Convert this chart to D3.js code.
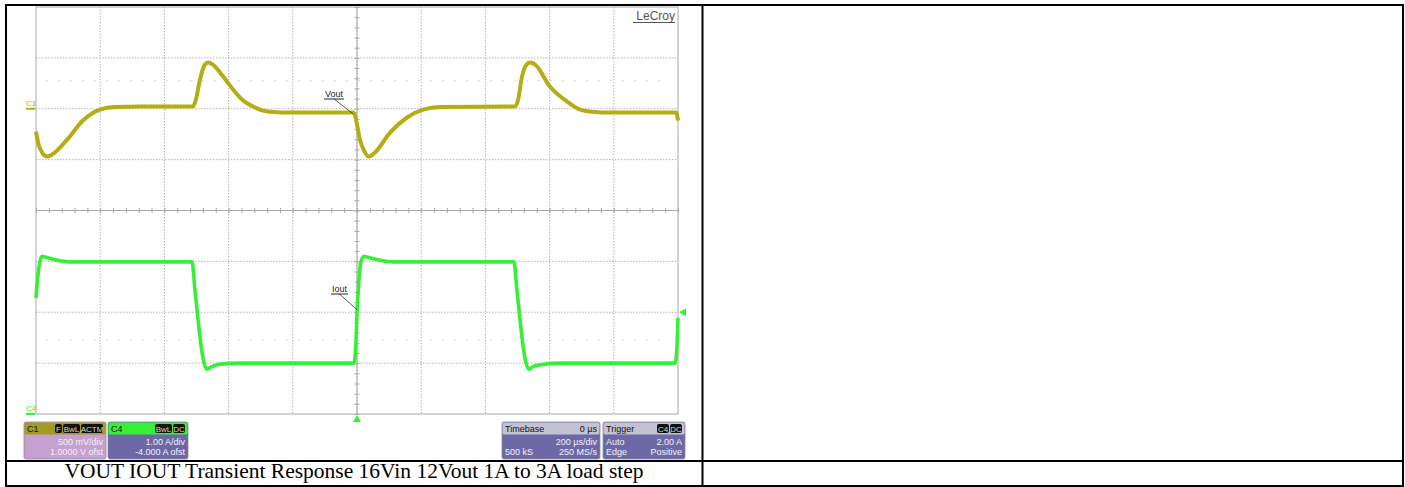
<!DOCTYPE html>
<html>
<head>
<meta charset="utf-8">
<script src="https://cdn.jsdelivr.net/npm/d3@7"></script>
<style>
  body { margin: 0; background: #fff; }
  svg { display: block; }
</style>
</head>
<body>
<svg id="chart" width="1405" height="487"></svg>
<script>
// Vout (C1) - time in us, volts (AC coupled, 0 V at the C1 marker)
const voutTime = [-1000, -991, -981, -966, -950, -903, -854, -801, -754, -676, -511, -502, -489, -477, -464, -449, -417, -386, -355, -324, -293, -262, -209, -12, -6, 0, 9, 22, 37, 53, 103, 156, 206, 259, 492, 502, 514, 526, 539, 555, 601, 654, 695, 741, 779, 994, 1000];
const voutVolts = [-0.224, -0.362, -0.430, -0.470, -0.450, -0.303, -0.116, -0.008, 0.017, 0.022, 0.022, 0.090, 0.287, 0.415, 0.454, 0.434, 0.316, 0.189, 0.081, 0.022, -0.018, -0.032, -0.037, -0.037, -0.067, -0.155, -0.303, -0.411, -0.470, -0.440, -0.234, -0.086, -0.008, 0.017, 0.022, 0.090, 0.316, 0.424, 0.454, 0.434, 0.218, 0.071, -0.008, -0.032, -0.037, -0.037, -0.116];

// Iout (C4) - time in us, amps
const ioutTime = [-1000, -994, -988, -981, -969, -941, -894, -514, -505, -495, -486, -477, -467, -455, -427, -364, -9, -3, 0, 6, 12, 22, 34, 65, 109, 489, 498, 508, 517, 526, 536, 551, 586, 632, 991, 997, 1000];
const ioutAmps = [2.28, 2.73, 2.99, 3.10, 3.08, 3.03, 2.99, 2.99, 2.45, 1.85, 1.36, 1.02, 0.88, 0.92, 0.98, 1.00, 1.00, 1.45, 1.98, 2.63, 2.99, 3.10, 3.08, 3.03, 2.99, 2.99, 2.45, 1.85, 1.36, 1.02, 0.88, 0.94, 0.98, 1.00, 1.00, 1.36, 1.89];

// scope settings
const channels = ['C1', 'C4'];
const c1Flags = ['F', 'BwL', 'ACTM'];
const c4Flags = ['BwL', 'DC'];
const trigFlags = ['C4', 'DC'];
const c1Rows = ['500 mV/div', '1.0000 V ofst'];
const c4Rows = ['1.00 A/div', '-4.000 A ofst'];
const triggerLevel = 2.0;
const caption = 'VOUT IOUT Transient Response 16Vin 12Vout 1A to 3A load step';

const svg = d3.select('#chart');

const grid = { left: 36, right: 678, top: 7, bottom: 414 };
const x = d3.scaleLinear().domain([-1000, 1000]).range([grid.left, grid.right]);
// 500 mV/div, 8 divisions, 0 V two divisions above centre
const yV = d3.scaleLinear().domain([-3, 1]).range([grid.bottom, grid.top]);
// 1 A/div, -4 A offset -> 0 A on the bottom line
const yI = d3.scaleLinear().domain([0, 8]).range([grid.bottom, grid.top]);
// division scale used for the graticule
const yDiv = d3.scaleLinear().domain([-4, 4]).range([grid.bottom, grid.top]);
const xDiv = d3.scaleLinear().domain([-5, 5]).range([grid.left, grid.right]);

const yellow = '#b2ae14';
const green = '#36ef36';

// graticule
const g = svg.append('g');

g.append('g')
  .selectAll('line')
  .data(d3.range(-4, 5))
  .enter()
  .append('line')
  .attr('x1', xDiv)
  .attr('x2', xDiv)
  .attr('y1', grid.top)
  .attr('y2', grid.bottom)
  .attr('stroke', '#b4b4b4')
  .attr('stroke-dasharray', '1.5,1.5');

g.append('g')
  .selectAll('line')
  .data(d3.range(-3, 4))
  .enter()
  .append('line')
  .attr('y1', yDiv)
  .attr('y2', yDiv)
  .attr('x1', grid.left)
  .attr('x2', grid.right)
  .attr('stroke', '#b4b4b4')
  .attr('stroke-dasharray', '1.5,1.5');

// faint marker rows
g.append('g')
  .selectAll('line')
  .data([2.55, -2.55])
  .enter()
  .append('line')
  .attr('y1', yDiv)
  .attr('y2', yDiv)
  .attr('x1', grid.left + 10)
  .attr('x2', grid.right - 10)
  .attr('stroke', '#d4d4d4')
  .attr('stroke-dasharray', '2,10');

// centre axes with minor ticks
const axisX = d3.axisBottom(xDiv).tickValues(d3.range(-5, 5.01, 0.2)).tickSize(5).tickFormat('');
const axisY = d3.axisLeft(yDiv).tickValues(d3.range(-4, 4.01, 0.2)).tickSize(5).tickFormat('');

g.append('g')
  .attr('transform', 'translate(0,' + (yDiv(0) - 2.5) + ')')
  .call(axisX)
  .call(s => s.select('.domain').remove())
  .selectAll('line').attr('stroke', '#a8a8a8');
g.append('g')
  .attr('transform', 'translate(' + (xDiv(0) + 2.5) + ',0)')
  .call(axisY)
  .call(s => s.select('.domain').remove())
  .selectAll('line').attr('stroke', '#a8a8a8');

g.append('line')
  .attr('x1', grid.left).attr('x2', grid.right)
  .attr('y1', yDiv(0)).attr('y2', yDiv(0))
  .attr('stroke', '#a8a8a8');
g.append('line')
  .attr('x1', xDiv(0)).attr('x2', xDiv(0))
  .attr('y1', grid.top).attr('y2', grid.bottom)
  .attr('stroke', '#a8a8a8');

g.append('rect')
  .attr('x', grid.left).attr('y', grid.top)
  .attr('width', grid.right - grid.left).attr('height', grid.bottom - grid.top)
  .attr('fill', 'none')
  .attr('stroke', '#a8a8a8');

// traces
const voutLine = d3.line()
  .x((d, i) => x(voutTime[i]))
  .y(d => yV(d))
  .curve(d3.curveMonotoneX);

const ioutLine = d3.line()
  .x((d, i) => x(ioutTime[i]))
  .y(d => yI(d))
  .curve(d3.curveMonotoneX);

svg.append('path')
  .attr('d', voutLine(voutVolts))
  .attr('fill', 'none')
  .attr('stroke', yellow)
  .attr('stroke-width', 4)
  .attr('stroke-linejoin', 'round');

svg.append('path')
  .attr('d', ioutLine(ioutAmps))
  .attr('fill', 'none')
  .attr('stroke', green)
  .attr('stroke-width', 3.6)
  .attr('stroke-linejoin', 'round');

// channel markers on the left
const markers = [
  { name: channels[0], y: yV(0), color: yellow },
  { name: channels[1], y: yI(0), color: green }
];
markers.forEach(m => {
  svg.append('text')
    .attr('x', 26)
    .attr('y', m.y - 3)
    .attr('font-family', 'Liberation Sans, Arial, sans-serif')
    .attr('font-size', 8)
    .attr('fill', m.color)
    .text(m.name);
  svg.append('line')
    .attr('x1', 26).attr('x2', 35)
    .attr('y1', m.y).attr('y2', m.y)
    .attr('stroke', m.color)
    .attr('stroke-width', 2);
});

// trigger markers
svg.append('path')
  .attr('d', `M${x(0)},${grid.bottom + 1} l-4,7 l8,0 z`)
  .attr('fill', green);
svg.append('path')
  .attr('d', `M${grid.right + 1},${yI(triggerLevel)} l7,-4 l0,8 z`)
  .attr('fill', green);

// trace labels
function traceLabel(text, tx, ty, lineEnd) {
  const t = svg.append('text')
    .attr('x', tx)
    .attr('y', ty)
    .attr('font-family', 'Liberation Sans, Arial, sans-serif')
    .attr('font-size', 9)
    .attr('fill', '#222')
    .text(text);
  const w = t.node().getComputedTextLength();
  svg.append('line')
    .attr('x1', tx - 1).attr('x2', tx + w + 1)
    .attr('y1', ty + 2).attr('y2', ty + 2)
    .attr('stroke', '#222');
  svg.append('line')
    .attr('x1', tx + w / 2).attr('y1', ty + 2)
    .attr('x2', lineEnd[0]).attr('y2', lineEnd[1])
    .attr('stroke', '#333')
    .attr('stroke-width', 0.8);
}
traceLabel('Vout', 325, 97, [x(-12), yV(-0.05)]);
traceLabel('Iout', 332, 292, [x(0), yI(2.05)]);

// LeCroy logo
const logo = svg.append('text')
  .attr('x', 675)
  .attr('y', 20)
  .attr('text-anchor', 'end')
  .attr('font-family', 'Liberation Sans, Arial, sans-serif')
  .attr('font-size', 12)
  .attr('fill', '#555')
  .text('LeCroy');
svg.append('line')
  .attr('x1', 633).attr('x2', 675)
  .attr('y1', 22.5).attr('y2', 22.5)
  .attr('stroke', '#555');

// info boxes at the bottom
function infoBox(bx, bw, head, headColor, bodyColor, headText, flags, rows) {
  const by = 422, bh = 37, hh = 12;
  const box = svg.append('g');
  box.append('rect')
    .attr('x', bx).attr('y', by).attr('width', bw).attr('height', bh)
    .attr('rx', 2).attr('fill', bodyColor)
    .attr('stroke', '#8a8a9a').attr('stroke-width', 0.8);
  box.append('rect')
    .attr('x', bx + 0.5).attr('y', by + 0.5).attr('width', bw - 1).attr('height', hh)
    .attr('rx', 1.5).attr('fill', headColor);
  box.append('text')
    .attr('x', bx + 3).attr('y', by + 10)
    .attr('font-family', 'Liberation Sans, Arial, sans-serif')
    .attr('font-size', 9)
    .attr('fill', '#111')
    .text(head);
  if (headText) {
    box.append('text')
      .attr('x', bx + bw - 3).attr('y', by + 10)
      .attr('text-anchor', 'end')
      .attr('font-family', 'Liberation Sans, Arial, sans-serif')
      .attr('font-size', 9)
      .attr('fill', '#111')
      .text(headText);
  }
  // black chips, right aligned
  let cx = bx + bw - 2;
  flags.slice().reverse().forEach(f => {
    const cw = f.length * 5 + 3;
    cx -= cw;
    box.append('rect')
      .attr('x', cx).attr('y', by + 2).attr('width', cw - 1).attr('height', 9)
      .attr('rx', 2).attr('fill', '#111');
    box.append('text')
      .attr('x', cx + (cw - 1) / 2).attr('y', by + 9.5)
      .attr('text-anchor', 'middle')
      .attr('font-family', 'Liberation Sans, Arial, sans-serif')
      .attr('font-size', 8)
      .attr('fill', '#d8d8c0')
      .text(f);
  });
  rows.forEach((r, i) => {
    const ry = by + 23 + i * 10;
    if (r[0]) {
      box.append('text')
        .attr('x', bx + 3).attr('y', ry)
        .attr('font-family', 'Liberation Sans, Arial, sans-serif')
        .attr('font-size', 9)
        .attr('fill', '#f4f0f8')
        .text(r[0]);
    }
    if (r[1]) {
      box.append('text')
        .attr('x', bx + bw - 3).attr('y', ry)
        .attr('text-anchor', 'end')
        .attr('font-family', 'Liberation Sans, Arial, sans-serif')
        .attr('font-size', 9)
        .attr('fill', '#f4f0f8')
        .text(r[1]);
    }
  });
}

infoBox(24, 82, channels[0], '#a49c22', '#c6a0d0', null, c1Flags, c1Rows.map(r => [null, r]));
infoBox(108, 80, channels[1], green, '#6c68a6', null, c4Flags, c4Rows.map(r => [null, r]));
infoBox(502, 98, 'Timebase', '#c2c2d2', '#6c68a6', '0 µs', [], [[null, '200 µs/div'], ['500 kS', '250 MS/s']]);
infoBox(603, 82, 'Trigger', '#c2c2d2', '#6c68a6', null, trigFlags, [['Auto', '2.00 A'], ['Edge', 'Positive']]);

// table borders
const border = svg.append('g').attr('stroke', '#000').attr('stroke-width', 2);
border.append('rect').attr('x', 6).attr('y', 5).attr('width', 1397).attr('height', 481).attr('fill', 'none');
border.append('line').attr('x1', 702.5).attr('x2', 702.5).attr('y1', 5).attr('y2', 486);
border.append('line').attr('x1', 6).attr('x2', 1403).attr('y1', 461).attr('y2', 461);

// caption
svg.append('text')
  .attr('x', 354)
  .attr('y', 478)
  .attr('text-anchor', 'middle')
  .attr('font-family', 'Liberation Serif, Times New Roman, serif')
  .attr('font-size', 21.5)
  .attr('fill', '#000')
  .text(caption);
</script>
</body>
</html>
